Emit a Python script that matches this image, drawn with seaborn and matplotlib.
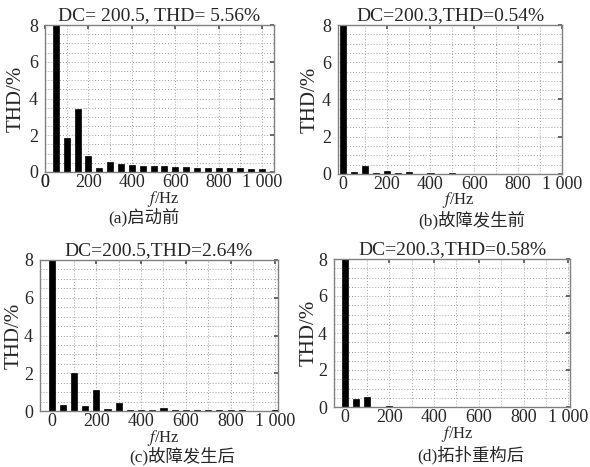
import matplotlib
matplotlib.use("Agg")
import matplotlib.pyplot as plt
import seaborn as sns
from matplotlib.ticker import MultipleLocator

# harmonic spectra (f in Hz, THD in %), DC bar clipped by the y-limit
freqs_a = [50, 100, 150, 200, 250, 300, 350, 400, 450, 500,
           550, 600, 650, 700, 750, 800, 850, 900, 950, 1000]
thd_a = [100, 1.85, 3.43, 0.85, 0.22, 0.53, 0.44, 0.38, 0.35, 0.33,
         0.30, 0.27, 0.26, 0.24, 0.23, 0.22, 0.21, 0.20, 0.19, 0.18]

freqs_bcd = [0, 50, 100, 150, 200, 250, 300, 350, 400, 450, 500,
             550, 600, 650, 700, 750, 800, 850, 900, 950, 1000]
thd_b = [100, 0.10, 0.45, 0.03, 0.14, 0.03, 0.10, 0.02, 0.07, 0.02, 0.05,
         0.01, 0.02, 0.01, 0.01, 0.01, 0.01, 0.01, 0.01, 0.01, 0.01]
thd_c = [100, 0.32, 2.00, 0.25, 1.10, 0.12, 0.42, 0.07, 0.07, 0.06, 0.14,
         0.06, 0.07, 0.06, 0.04, 0.04, 0.04, 0.03, 0.02, 0.02, 0.05]
thd_d = [100, 0.45, 0.52, 0.02, 0.08, 0.01, 0.01, 0.01, 0.01, 0.01, 0.01,
         0.01, 0.01, 0.01, 0.01, 0.01, 0.01, 0.01, 0.01, 0.01, 0.01]

titles = ["DC= 200.5, THD= 5.56%", "DC=200.3,THD=0.54%",
          "DC=200.5,THD=2.64%", "DC=200.3,THD=0.58%"]
captions = ["(a)启动前", "(b)故障发生前", "(c)故障发生后", "(d)拓扑重构后"]
xtick_vals = [0, 200, 400, 600, 800, 1000]
xtick_labels = ["0", "200", "400", "600", "800", "1 000"]

sns.set_theme(style="white")
plt.rcParams["font.family"] = ["Liberation Serif", "Noto Sans CJK SC"]
plt.rcParams["mathtext.fontset"] = "stix"

W, H = 590, 467
fig = plt.figure(figsize=(W / 100, H / 100), dpi=100)

# layout in pixels: left, right, top, bottom, xlim, xlabel (x,y), caption (x,y), ylabel x
panels = [
    (freqs_a, thd_a, (45, 274, 25, 172), (30, 1055), (163, 199), (144, 217), 16),
    (freqs_bcd, thd_b, (338, 562, 25, 174), (-22, 995), (458, 200.5), (472, 220), 310),
    (freqs_bcd, thd_c, (40, 278, 260, 411), (-52, 1012), (163, 438), (182, 456), 14),
    (freqs_bcd, thd_d, (334, 570, 259, 407), (-48, 1008), (457, 434), (471, 455), 309),
]

for i, (fx, vals, (l, r, t, b), xl, xlab, cap, ylx) in enumerate(panels):
    ax = fig.add_axes([l / W, 1 - b / H, (r - l) / W, (b - t) / H])
    sns.barplot(x=fx, y=vals, native_scale=True, color="black", saturation=1,
                width=0.55, errorbar=None, edgecolor="black", linewidth=0.5, ax=ax)
    ax.set_xlim(*xl)
    ax.set_ylim(0, 8)
    ax.set_xticks(xtick_vals)
    ax.set_xticklabels(xtick_labels)
    ax.set_yticks([0, 2, 4, 6, 8])
    ax.xaxis.set_minor_locator(MultipleLocator(100))
    ax.yaxis.set_minor_locator(MultipleLocator(0.5))
    ax.grid(which="both", color="#a0a0a0", linestyle=(0, (1, 2)), linewidth=0.7)
    ax.set_axisbelow(True)
    ax.tick_params(which="major", direction="in", length=3, color="#555555",
                   labelsize=13, top=True, right=True)
    ax.tick_params(axis="x", pad=1.5)
    ax.tick_params(axis="y", pad=5)
    ax.tick_params(which="minor", length=0)
    for s in ax.spines.values():
        s.set_color("#808080")
        s.set_linewidth(1.0)
    ax.set_title(titles[i], fontsize=14, pad=3.5)

    ax.set_xlabel("$f$/Hz", fontsize=12)
    ax.xaxis.set_label_coords((xlab[0] - l) / (r - l), -(xlab[1] - b) / (b - t))
    ax.xaxis.label.set_va("center")
    ax.set_ylabel("THD/%", fontsize=15)
    ax.yaxis.set_label_coords((ylx - l) / (r - l), 0.5)
    ax.yaxis.label.set_va("center")

    fig.text(cap[0] / W, 1 - cap[1] / H, captions[i], fontsize=12.5,
             ha="center", va="center")

    if xl[0] > 0:
        # the 0 label sits just left of the clipped axis in panel (a)
        ax.annotate("0", xy=(0, 0), xycoords=ax.get_xaxis_transform(),
                    xytext=(0, -1.5), textcoords="offset points",
                    ha="center", va="top", fontsize=13, annotation_clip=False)

fig.savefig("out.png", dpi=100)
